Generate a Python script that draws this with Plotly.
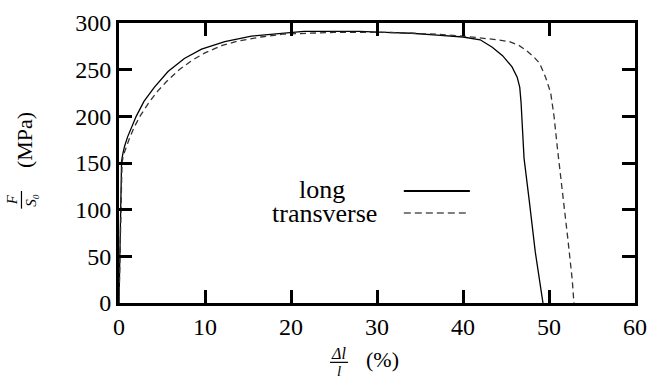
import plotly.graph_objects as go

# Engineering stress-strain curves, longitudinal and transverse specimens
long_strain = [0, 0.12, 0.2, 0.3, 0.45, 0.65, 1.0, 1.5, 2.0, 2.9, 4.1, 5.7, 7.6, 9.6,
               12.3, 15.4, 18.9, 21.5, 25, 28, 31, 34, 37, 40, 42, 43.4, 44.6, 45.7,
               46.3, 46.6, 46.75, 46.9, 47.1, 47.7, 48.4, 49.3]
long_stress = [0, 60, 120, 152, 160, 168, 178, 190, 200, 216, 231, 248, 262, 272,
               280, 286, 289, 291, 291, 291, 290, 289, 287, 285, 282, 274, 265, 253,
               242, 231, 215, 189, 155, 110, 55, 0]

trans_strain = [0, 0.12, 0.22, 0.35, 0.5, 0.8, 1.2, 1.8, 2.5, 3.5, 4.5, 5.5, 7.0, 8.5,
                10, 12, 14, 16.5, 19, 22, 25, 28, 31, 34, 37, 40, 42.2, 44, 45.4,
                46.5, 47.3, 48.2, 48.9, 49.6, 50.2, 50.6, 51.0, 51.6, 52.2, 52.7, 52.9]
trans_stress = [0, 55, 115, 150, 158, 166, 176, 189, 201, 215, 227, 237, 250, 260,
                268, 276, 281, 285, 288, 289, 290, 290, 290, 289, 288, 286, 284, 282, 280,
                276, 271, 264, 257, 242, 225, 199, 164, 118, 68, 25, 0]

FONT = "Liberation Serif"

fig = go.Figure()
fig.add_trace(go.Scatter(x=long_strain, y=long_stress, mode="lines",
                         line=dict(color="black", width=1.3)))
fig.add_trace(go.Scatter(x=trans_strain, y=trans_stress, mode="lines",
                         line=dict(color="#333333", width=1.3, dash="6px,4px")))

fig.update_xaxes(range=[0, 60], dtick=10, automargin=False, showline=True,
                 linecolor="black", linewidth=3, mirror="ticks", ticks="inside",
                 ticklen=13, tickwidth=3, tickcolor="black", showgrid=False,
                 zeroline=False, tickfont=dict(family=FONT, size=24, color="black"))
fig.update_yaxes(range=[0, 300], dtick=50, automargin=False, showline=True,
                 linecolor="black", linewidth=3, mirror="ticks", ticks="inside",
                 ticklen=13, tickwidth=3, tickcolor="black", showgrid=False,
                 zeroline=False, tickfont=dict(family=FONT, size=24, color="black"))

ann = []
# y-axis title: F/S0 (MPa), rotated
ann.append(dict(text="(MPa)", x=-0.184, y=0.582, textangle=-90,
                font=dict(family=FONT, size=22, color="black")))
ann.append(dict(text="F", x=-0.207, y=0.368, textangle=-90,
                font=dict(family=FONT, size=15, color="black", style="italic")))
ann.append(dict(text="S₀", x=-0.171, y=0.368, textangle=-90,
                font=dict(family=FONT, size=15, color="black", style="italic")))
# x-axis title: delta-l over l (%)
ann.append(dict(text="Δl", x=0.426, y=-0.180,
                font=dict(family=FONT, size=16, color="black", style="italic")))
ann.append(dict(text="l", x=0.426, y=-0.243,
                font=dict(family=FONT, size=15, color="black", style="italic")))
ann.append(dict(text="(%)", x=0.51, y=-0.2,
                font=dict(family=FONT, size=22, color="black")))
# key labels
ann.append(dict(text="long", x=0.393, y=0.4036,
                font=dict(family=FONT, size=26, color="black")))
ann.append(dict(text="transverse", x=0.399, y=0.318,
                font=dict(family=FONT, size=26, color="black")))
for a in ann:
    a.update(xref="paper", yref="paper", showarrow=False,
             xanchor="center", yanchor="middle")

shapes = [
    # fraction bars
    dict(type="line", xref="paper", yref="paper", x0=-0.189, x1=-0.189,
         y0=0.337, y1=0.40, line=dict(color="black", width=1.2)),
    dict(type="line", xref="paper", yref="paper", x0=0.409, x1=0.444,
         y0=-0.212, y1=-0.212, line=dict(color="black", width=1.2)),
    # key samples
    dict(type="line", xref="paper", yref="paper", x0=0.552, x1=0.680,
         y0=0.4, y1=0.4, line=dict(color="black", width=2)),
    dict(type="line", xref="paper", yref="paper", x0=0.552, x1=0.680,
         y0=0.321, y1=0.321, line=dict(color="#555555", width=1.5, dash="7px,4px")),
]

fig.update_layout(
    width=649, height=378,
    margin=dict(l=119, r=14, t=23, b=75, autoexpand=False),
    plot_bgcolor="white", paper_bgcolor="white",
    annotations=ann, shapes=shapes,
    showlegend=False,
)

fig.write_html("out.html")
